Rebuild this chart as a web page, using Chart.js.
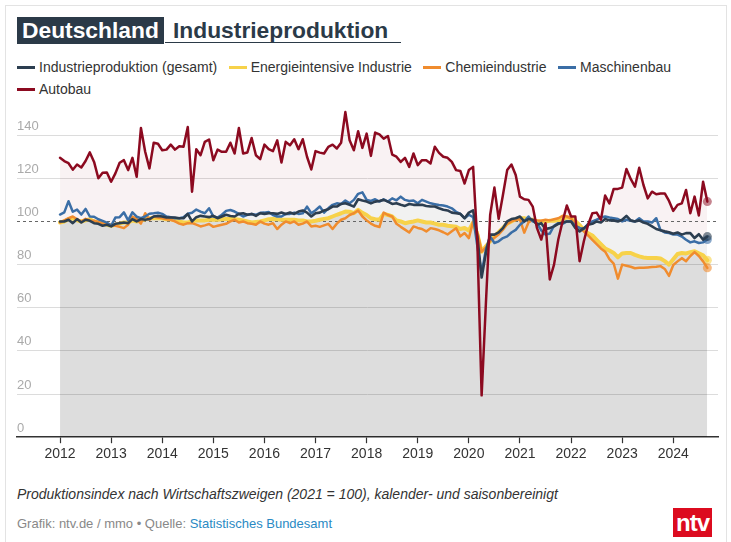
<!DOCTYPE html>
<html><head><meta charset="utf-8">
<script src="https://cdn.jsdelivr.net/npm/chart.js@4.4.1/dist/chart.umd.min.js"></script>
<style>
html,body{margin:0;padding:0;background:#fff;width:731px;height:542px;overflow:hidden;font-family:"Liberation Sans",Arial,sans-serif;}
#frame{position:absolute;left:5px;top:5px;width:722px;height:570px;border:1px solid #e3e3e3;box-sizing:border-box;}
#tbox{position:absolute;left:17px;top:17px;height:27px;line-height:27px;background:#2b3a48;color:#fff;font-weight:bold;font-size:22.8px;padding:0 5px;white-space:nowrap;}
#trest{position:absolute;left:173px;top:17px;height:27px;line-height:27px;color:#2b3a48;font-weight:bold;font-size:22.8px;white-space:nowrap;}
#tline{position:absolute;left:165px;top:42px;width:236px;height:0;border-top:1.5px solid #2b3a48;}
#legend{position:absolute;left:17px;top:56px;width:700px;font-size:14px;color:#333;}
#legend .it{display:inline-block;height:22px;line-height:22px;margin-right:11.5px;white-space:nowrap;}
#legend .mk{display:inline-block;width:18px;height:3px;vertical-align:middle;margin-right:4px;position:relative;top:-1px;}
#chartwrap{position:absolute;left:0;top:95px;width:731px;height:380px;}
#note{position:absolute;left:17px;top:486px;font-size:14px;font-style:italic;color:#333;white-space:nowrap;}
#credit{position:absolute;left:17px;top:516px;font-size:13px;color:#888;white-space:nowrap;}
#credit span{color:#2a8ac4;}
#logo{position:absolute;left:673px;top:508px;width:39px;height:29px;background:#dc0b1f;color:#fff;font-weight:bold;font-size:24px;line-height:29px;text-align:center;letter-spacing:-1px;}
</style>
</head><body>
<div id="frame"></div>
<div id="tbox">Deutschland</div>
<div id="trest">Industrieproduktion</div>
<div id="tline"></div>
<div id="legend"></div>
<div id="chartwrap"><canvas id="c"></canvas></div>
<div id="note">Produktionsindex nach Wirtschaftszweigen (2021 = 100), kalender- und saisonbereinigt</div>
<div id="credit">Grafik: ntv.de / mmo • Quelle: <span>Statistisches Bundesamt</span></div>
<div id="logo">ntv</div>
<script>
// Monthly values, Jan 2012 – Sep 2024 (153 months)
const years = ['2012','2013','2014','2015','2016','2017','2018','2019','2020','2021','2022','2023','2024'];
const yTickValues = [0,20,40,60,80,100,120,140];

const gesamt = [
100,100,100.8,99.2,101.1,99.5,100.8,100.3,99.2,98.9,98,98.5,
97.7,98.9,99.2,99.5,99.2,101.1,100,101.1,100.8,101.1,102.3,102.6,
102.3,101.8,101.8,101.8,101.5,101.5,103.5,100,102,102.6,102.3,102,
102.6,101.5,102.3,103.1,102.5,102.3,103.5,103.8,103.1,103.5,102.6,103.8,
103.5,103.8,103.8,103.5,104.1,103.5,104.1,103.5,104.6,105.1,104.1,102.3,
103.8,104.1,105.1,105.7,106.9,106.9,108.1,108.4,107.7,106.9,110.3,109.7,
109.2,108.4,109.2,109.5,110,109.2,108.1,108.4,107.7,107.2,108.1,107.7,
107.7,107.7,107.2,106.9,106.9,106.1,105.4,105.1,104.1,103.8,103.5,101.5,
104.1,105.1,93.1,74,85.4,93.9,93.9,94.9,96.9,100,101.1,101.5,
102.3,100,101.1,100.8,98.5,99.2,96.5,96.9,97.7,98.9,99.5,100,
100,97,95.4,96.9,98.5,98.9,100,99.5,101.1,100.5,100.5,100,
100.8,102.6,100.5,100,100.5,99.5,98.9,97.7,96.5,95.9,95.4,95,
94.3,94.9,93.9,94.6,94.6,92.3,94.1,91.6,93];

const energie = [
99.5,100,101,101.5,100.5,100,100.5,101,100,99.5,99,98.5,
98,98.5,99,99.5,99.5,100.5,100,100.5,101,101.5,101.5,101.5,
101.5,101,101,100.5,100,99.5,99.5,100,100.5,100.5,100.5,100.8,
100.8,100.8,101,101.1,101.1,101.1,100.8,100.5,100,99.5,99.8,100,
100.5,101,101.1,101,100.8,100.8,100.8,100.8,100.5,100.5,100,100,
100.3,100.8,101.2,101.5,102.3,103.1,103.8,104.6,104.5,103.8,105.4,104,
103,101.5,101,100.8,103.5,103,102.3,100.5,100,99.2,99.6,100,
100.5,100,99.5,99.5,99,98.5,98.5,98,97.8,97.5,96.5,97,
95.8,99.5,94,86,88.5,90.8,93,95,97,99,100,101,
101.5,101.5,101,100.8,100,100,100,100.3,100.3,100.5,101,102,
101.5,100.3,98.3,96,94.5,93.5,91.5,89.5,87.5,86.5,85.4,83.4,
85.2,85.4,85.4,84.5,83.8,83.3,83.1,83.1,83.1,82.8,81.6,80,
82.5,84.9,85.4,85.2,85.8,86.2,85.2,84.3,82];

const chemie = [
99.5,100.5,101.5,102.3,101,100,101.2,100.5,100.3,99.8,99.2,98.8,
98.5,98,97.5,96.9,98.5,102.3,101.2,99,103.8,100.8,102.3,101.8,
101.5,101,100.8,100,99,98.5,99.2,99.2,98.5,97.7,98.2,98.8,
97.5,98,98.5,98.9,100,100.8,99.5,100,99.2,98.9,98.5,100,
99,98.5,99.2,96.5,98.5,100,99.2,100,98.5,99,100,97.7,
98,97.5,98.2,98.9,96.5,99,100.8,101.5,103,103.8,105.1,102.3,
100.5,99,98,97.4,104.1,103,102.3,98.9,97.5,96.2,94.9,97.7,
97,96.5,95.4,96.9,96.5,95.9,95,94,95.5,96.9,93.1,94.6,
92.3,100,95,86,88,91,92.5,94,96.2,98.9,100,100.8,
101,94.8,99.5,100.8,100.5,100.3,100.8,100.5,101,101.5,102.6,102.3,
101.5,98,97,95.4,93.5,91.5,89.5,87.5,86,82.5,80.5,73.5,
80,79.5,79,78.3,78.5,78.5,78.7,78.9,79,79.3,78,74.8,
79.8,81.5,83,81.6,84,85.8,84,81.5,78.5];

const maschinen = [
103.2,104.2,109.4,104.5,105.5,103.2,105.8,102.3,102.2,101,100.3,99.5,
98,101.8,102,104.2,100.5,104.2,102.2,101.5,102.3,103.6,103.8,104.1,
103.5,102.3,102,101.5,101.5,102,103.6,104,105.5,104.6,103.8,106.1,
102.3,101.8,103.1,104.9,105.3,104.6,103.5,102.3,103.1,103.5,103.1,104,
104.1,104.4,103,102.3,102.3,103.5,103.5,104.1,103.5,103.8,106.9,103.8,
105.2,106.9,104.1,106.1,107.7,108.4,108.1,109.7,108.4,110,112.8,113.5,
110,109.5,110.3,109.2,110.3,109.2,110.7,109.8,111.5,110,109.5,109.7,
108.4,110,109.2,108.4,108,107.6,107.4,106.9,106.1,104.5,103.5,101.5,
103.1,102,88.5,76,87,93.1,90,90.8,92.3,93.1,94.9,96.1,
98.5,100,102.3,100,99.2,95.9,93.9,94.4,98,99.2,98.9,100,
100,98,97,96.5,98.9,100,100.8,101.8,102.3,101.8,101.5,101.1,
100,100.8,100.3,100,101.5,100,100,99.5,101.5,96,94.9,94.6,
93.9,93.9,93,91.5,90.3,90.8,90,90.3,91.6];

const autobau = [
129.5,128,127,124,126.4,125,128,132,127.6,120,122.6,122.7,
118.4,122.3,127.2,128.4,123.8,129.5,120.7,143.3,132.3,124.6,136.5,136,
133,133.3,135.6,133.3,134.9,134.6,143.8,113.8,133.5,130.7,136.9,138,
128.4,133.3,132.3,132.3,136.5,131.5,143.3,131.5,132,138.7,130.7,128.9,
135.6,133.5,132.6,137.6,127.3,136.9,135.3,138.1,133.5,138.1,130,124.1,
132.6,131.9,131.5,134.6,135.6,133.8,136.5,150.7,137.6,133,141.8,134.1,
140.7,130.4,141.2,140.4,138.4,139.6,131,130,127.6,129.5,125.3,131.5,
126.1,128.4,128.4,126.9,134.6,131.8,130,129.5,127.6,123.8,123.4,117.6,
123.8,125.3,90,19.4,62,103,115.7,101.2,112.3,123.8,126.4,121.5,
111.5,110.3,110,106.9,96.9,91.6,99.2,73.1,80,91.6,100,107.4,
102.3,102.3,81.6,90.8,98.5,103.8,104.1,100.8,112,108.4,115.1,115.1,
115.7,124.3,119.7,116.1,124.9,116.9,110.7,113.8,112.6,113,113,109.5,
104.9,107.7,108.4,114.6,103.8,111.5,102.8,118.4,109.2];

const seriesNames = ['Industrieproduktion (gesamt)','Energieintensive Industrie','Chemieindustrie','Maschinenbau','Autobau'];
const seriesData = [gesamt, energie, chemie, maschinen, autobau];
const seriesColors = ['#2c3e50','#f7d24a','#f08c2e','#3b6ea6','#8c0a20'];
const seriesDots = ['rgba(44,62,80,0.6)','rgba(247,210,74,0.6)','rgba(240,140,46,0.6)','rgba(59,110,166,0.6)','rgba(140,10,32,0.5)'];
const seriesWidths = [2.6,4,2.5,2.5,2.5];
const seriesOrder = [1,4,3,2,0];
const seriesFill = [
  {target:'origin', above:'rgba(0,0,0,0.055)', below:'rgba(0,0,0,0)'},
  {target:'origin', above:'rgba(0,0,0,0.085)', below:'rgba(0,0,0,0)'},
  false,
  false,
  {target:0, above:'rgba(140,0,25,0.05)', below:'rgba(0,0,0,0)'}
];

// HTML legend
const leg = document.getElementById('legend');
seriesNames.forEach((n,k)=>{
  const it = document.createElement('span'); it.className='it';
  const mk = document.createElement('span'); mk.className='mk'; mk.style.background = seriesColors[k];
  it.appendChild(mk); it.appendChild(document.createTextNode(n));
  leg.appendChild(it);
});

Chart.defaults.font.family = '"Liberation Sans", Arial, sans-serif';

const refLine = {
  id:'refLine',
  beforeDatasetsDraw(chart){
    const {ctx, chartArea:a, scales:{y}} = chart;
    const py = Math.round(y.getPixelForValue(100)) + 0.5;
    ctx.save();
    ctx.strokeStyle = '#666'; ctx.lineWidth = 1; ctx.setLineDash([3,3]);
    ctx.beginPath(); ctx.moveTo(a.left, py); ctx.lineTo(a.right, py); ctx.stroke();
    ctx.restore();
  }
};

const datasets = seriesData.map((arr,k)=>({
  label: seriesNames[k],
  data: arr.map((v,i)=>({x:i, y:v})),
  borderColor: seriesColors[k],
  borderWidth: seriesWidths[k],
  backgroundColor: seriesDots[k],
  fill: seriesFill[k],
  tension: 0,
  borderJoinStyle: 'round',
  borderCapStyle: 'round',
  order: seriesOrder[k],
  pointRadius: c => c.dataIndex === arr.length-1 ? 4.5 : 0,
  pointBackgroundColor: seriesDots[k],
  pointBorderWidth: 0,
  pointHoverRadius: 0
}));

new Chart(document.getElementById('c'), {
  type:'line',
  data:{datasets},
  options:{
    responsive:true, maintainAspectRatio:false, animation:false,
    events:[],
    layout:{padding:{left:17, right:13, top:5.5, bottom:9}},
    plugins:{legend:{display:false}, tooltip:{enabled:false}, filler:{drawTime:'beforeDatasetsDraw'}},
    scales:{
      x:{type:'linear', min:-10.1, max:154.5,
        afterBuildTicks: s => { s.ticks = years.map((_,k)=>({value:k*12})); },
        ticks:{callback:(v)=>years[Math.round(v/12)], color:'#333', font:{size:14}, padding:3, maxRotation:0, autoSkip:false},
        grid:{drawOnChartArea:false, drawTicks:true, tickLength:6, tickColor:'#333', tickWidth:1.2},
        border:{display:true, color:'#333', width:1.5}
      },
      y:{min:0, max:155,
        afterBuildTicks: s => { s.ticks = yTickValues.map(v=>({value:v})); },
        ticks:{mirror:true, padding:0, labelOffset:-9, color:'#aaa', font:{size:13}},
        grid:{color: c => (c.tick && (c.tick.value===100 || c.tick.value===0)) ? 'rgba(0,0,0,0)' : '#dcdcdc', drawTicks:false, lineWidth:1},
        border:{display:false}
      }
    }
  },
  plugins:[refLine]
});
</script>
</body></html>
